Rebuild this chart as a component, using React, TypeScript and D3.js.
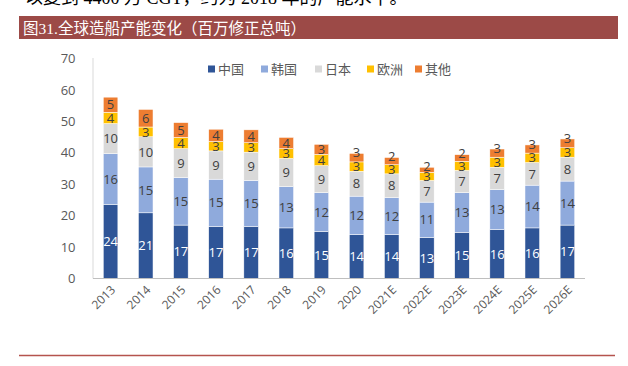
import React from "react";
import * as d3 from "d3";

const years = ["2013","2014","2015","2016","2017","2018","2019","2020","2021E","2022E","2023E","2024E","2025E","2026E"];
const seriesNames = ["中国","韩国","日本","欧洲","其他"];
const china = [23.6, 20.9, 17.0, 16.6, 16.6, 16.1, 15.0, 14.0, 14.0, 13.1, 14.7, 15.6, 16.1, 17.0];
const korea = [16.1, 14.6, 15.1, 15.0, 14.6, 13.1, 12.3, 12.2, 11.7, 11.2, 12.6, 12.7, 13.6, 14.0];
const japan = [9.6, 9.6, 9.2, 9.0, 9.0, 9.0, 8.6, 7.9, 7.6, 6.9, 7.1, 7.1, 7.2, 7.6];
const europe = [3.6, 3.1, 3.6, 3.0, 3.0, 3.1, 3.6, 3.0, 2.9, 2.6, 2.9, 3.2, 3.0, 3.0];
const other = [4.8, 5.6, 4.7, 3.9, 4.1, 3.6, 3.2, 2.7, 2.3, 1.6, 2.1, 2.6, 2.6, 2.8];
const yTicks = [0, 10, 20, 30, 40, 50, 60, 70];

const colors = ["#2F5597", "#8FAADC", "#D9D9D9", "#FFC000", "#ED7D31"];
const labelColors = ["#FFFFFF", "#404040", "#404040", "#404040", "#404040"];
const FONT = "'Open Sans', 'Noto Sans CJK SC', sans-serif";
const CJK = "'Noto Sans CJK SC', 'Open Sans', sans-serif";

export default function App() {
  const W = 628, H = 366;
  const x = d3.scaleBand<string>().domain(years).range([93, 585]).paddingInner(0.585).paddingOuter(0.2925);
  const y = d3.scaleLinear().domain([0, 70]).range([278.5, 58.5]);
  const table = years.map((yr, i) => ({ year: yr, s0: china[i], s1: korea[i], s2: japan[i], s3: europe[i], s4: other[i] }));
  const stack = d3.stack<any>().keys(["s0", "s1", "s2", "s3", "s4"]);
  const layers = stack(table);

  const legendX = [208, 261, 315, 367, 415];

  return (
    <svg width={W} height={H} style={{ position: "absolute", left: 0, top: 0, background: "#fff" }}>
      <text x={25} y={4} fontFamily="'Liberation Serif', 'Noto Sans CJK SC', serif" fontSize={18} fill="#000">以复到 4400 万 CGT，约为 2018 年的产能水平。</text>
      <rect x={19} y={16} width={599} height={23} fill="#9C4A47" />
      <text x={23} y={33.5} fontFamily="'Liberation Serif', 'Noto Sans CJK SC', serif" fontSize={15.5} fill="#FFFFFF">图31.全球造船产能变化（百万修正总吨）</text>

      <line x1={93} x2={93} y1={58} y2={278.5} stroke="#D9D9D9" strokeWidth={1} />
      {yTicks.map(t => (
        <text key={t} x={75.5} y={y(t)} dy="0.36em" textAnchor="end" fontFamily={FONT} fontSize={13} fill="#595959">{t}</text>
      ))}

      {layers.map((layer, si) => (
        <g key={si}>
          {layer.map((d, i) => {
            const yr = years[i];
            const x0 = x(yr)!;
            const top = y(d[1]);
            const bot = y(d[0]);
            return <rect key={i} x={x0} y={top} width={x.bandwidth()} height={bot - top} fill={colors[si]} stroke="#FFFFFF" strokeWidth={0.5} />;
          })}
        </g>
      ))}
      {layers.map((layer, si) => (
        <g key={"l" + si}>
          {layer.map((d, i) => {
            const yr = years[i];
            const cx = x(yr)! + x.bandwidth() / 2;
            const top = y(d[1]);
            const bot = y(d[0]);
            let cy = (top + bot) / 2;
            if (si === 4 && bot - top < 9) cy = top - 1;
            const v = d[1] - d[0];
            return <text key={i} x={cx} y={cy} dy="0.36em" textAnchor="middle" fontFamily={FONT} fontSize={13} fill={labelColors[si]}>{Math.round(v)}</text>;
          })}
        </g>
      ))}

      <line x1={93} x2={585} y1={278.5} y2={278.5} stroke="#BFBFBF" strokeWidth={1} />
      {years.map(yr => {
        const cx = x(yr)! + x.bandwidth() / 2 + 3;
        return (
          <text key={yr} transform={`translate(${cx},${288}) rotate(-45)`} textAnchor="end" dy="0.3em" fontFamily={FONT} fontSize={12} fill="#595959">{yr}</text>
        );
      })}

      {seriesNames.map((n, i) => (
        <g key={n}>
          <rect x={legendX[i]} y={65.5} width={7} height={7} fill={colors[i]} />
          <text x={legendX[i] + 10} y={69} dy="0.36em" fontFamily={CJK} fontSize={13} fill="#595959">{n}</text>
        </g>
      ))}

      <line x1={19} x2={615} y1={355.5} y2={355.5} stroke="#B5534E" strokeWidth={1.5} />
    </svg>
  );
}
